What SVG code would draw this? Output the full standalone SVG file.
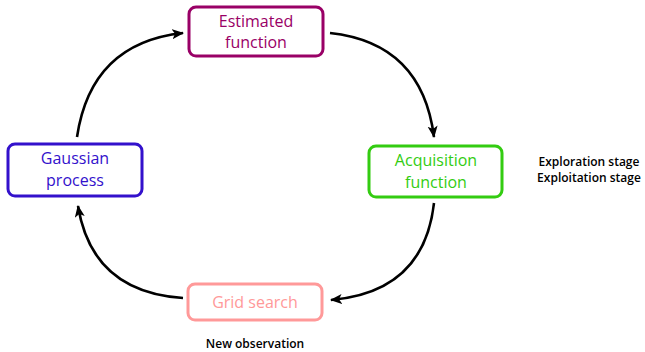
<svg xmlns="http://www.w3.org/2000/svg" width="645" height="352" viewBox="0 0 645 352">
<style>
.box{fill:#fff;stroke-width:3}
.lbl{font-family:"Open Sans","DejaVu Sans",sans-serif;font-size:16px;text-anchor:middle}
.note{font-family:"Open Sans","DejaVu Sans",sans-serif;font-size:12px;font-weight:600;text-anchor:middle;fill:#000}
.edge{fill:none;stroke:#000;stroke-width:2.6}
</style>
<defs>
<marker id="arr" markerUnits="userSpaceOnUse" markerWidth="14" markerHeight="12" refX="11" refY="5" orient="auto">
<path d="M0,0 L12,5 L0,10 L3,5 z" fill="#000"/>
</marker>
</defs>
<g id="edges">
<path class="edge" d="M77,137 Q91,43 183,33" marker-end="url(#arr)"/>
<path class="edge" d="M330,33 Q422,43 434,137" marker-end="url(#arr)"/>
<path class="edge" d="M434,203 Q424,292 331,300" marker-end="url(#arr)"/>
<path class="edge" d="M183,298 Q92,292 78,206" marker-end="url(#arr)"/>
</g>
<g id="estimated">
<rect class="box" x="189" y="7" width="134" height="49" rx="7" stroke="#990066"/>
<text class="lbl" fill="#990066" x="256" y="27">Estimated</text>
<text class="lbl" fill="#990066" x="256" y="48">function</text>
</g>
<g id="gaussian">
<rect class="box" x="8" y="144" width="134" height="52" rx="7" stroke="#3311cc"/>
<text class="lbl" fill="#3311cc" x="75" y="164">Gaussian</text>
<text class="lbl" fill="#3311cc" x="75" y="186">process</text>
</g>
<g id="acquisition">
<rect class="box" x="369" y="146" width="133" height="51" rx="7" stroke="#33cc11"/>
<text class="lbl" fill="#33cc11" x="436" y="166">Acquisition</text>
<text class="lbl" fill="#33cc11" x="436" y="188">function</text>
</g>
<g id="grid">
<rect class="box" x="188" y="284" width="134" height="36" rx="7" stroke="#ff9999"/>
<text class="lbl" fill="#ff9999" x="255" y="308">Grid search</text>
</g>
<g id="notes">
<text class="note" x="589" y="166">Exploration stage</text>
<text class="note" x="589" y="182">Exploitation stage</text>
<text class="note" x="255" y="348">New observation</text>
</g>
</svg>
